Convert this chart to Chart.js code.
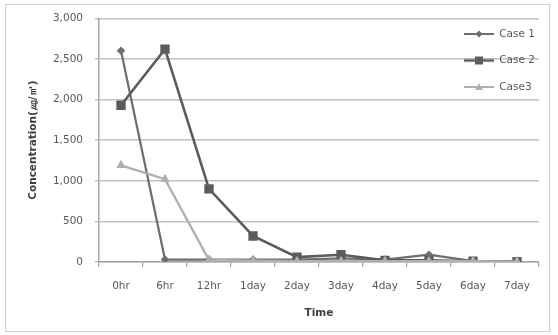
<!DOCTYPE html>
<html>
<head>
<meta charset="utf-8">
<script src="https://cdn.jsdelivr.net/npm/chart.js@4"></script>
<style>
  html, body { margin: 0; padding: 0; background: #ffffff; }
  #frame { position: absolute; left: 5px; top: 4px; width: 543px; height: 326px; border: 1px solid #cfcfcf; }
  #c { position: absolute; left: 0; top: 0; }
</style>
</head>
<body>
<div id="frame"></div>
<canvas id="c" width="558" height="335"></canvas>
<script>
const categories = ['0hr', '6hr', '12hr', '1day', '2day', '3day', '4day', '5day', '6day', '7day'];
const case1 = [2600, 30, 30, 30, 30, 45, 30, 90, 10, 5];
const case2 = [1930, 2620, 900, 320, 60, 90, 20, 20, 10, 5];
const case3 = [1190, 1020, 25, 15, 10, 10, 10, 10, 10, 5];
const seriesNames = ['Case 1', 'Case 2', 'Case3'];
const yTickValues = [0, 500, 1000, 1500, 2000, 2500, 3000];
const yTickLabels = ['0', '500', '1,000', '1,500', '2,000', '2,500', '3,000'];
const xTitle = 'Time';
const yTitle = 'Concentration(㎍/㎥)';

const FONT = "'DejaVu Sans', sans-serif";
const colors = ['#6e6e6e', '#5c5c5c', '#b0b0b0'];

function legendIcon(color, kind, lw) {
  const c = document.createElement('canvas');
  c.width = 30; c.height = 12;
  const g = c.getContext('2d');
  g.strokeStyle = color; g.fillStyle = color; g.lineWidth = lw;
  g.beginPath(); g.moveTo(0, 6); g.lineTo(30, 6); g.stroke();
  g.beginPath();
  if (kind === 'diamond') { g.moveTo(15, 2.5); g.lineTo(18.5, 6); g.lineTo(15, 9.5); g.lineTo(11.5, 6); }
  else if (kind === 'square') { g.rect(11, 2, 8, 8); }
  else { g.moveTo(15, 2); g.lineTo(19, 9); g.lineTo(11, 9); }
  g.closePath(); g.fill();
  return c;
}
const icons = [legendIcon(colors[0], 'diamond', 2), legendIcon(colors[1], 'square', 2.5), legendIcon(colors[2], 'triangle', 2)];

const legendPlace = {
  id: 'legendPlace',
  afterLayout(chart) {
    const lg = chart.legend;
    if (!lg) return;
    const pad = lg.options.labels.padding;
    const x = chart.chartArea.right - 75;
    lg.left = x - pad;
    lg.right = lg.left + lg.width;
    lg.top = 12.75;
    lg.bottom = lg.top + lg.height;
  }
};

new Chart(document.getElementById('c'), {
  type: 'line',
  data: {
    labels: categories,
    datasets: [
      { label: seriesNames[0], data: case1, borderColor: colors[0], backgroundColor: colors[0], borderWidth: 2.2,
        pointStyle: 'rectRot', pointRadius: 4.3, pointBorderWidth: 0, order: 2 },
      { label: seriesNames[1], data: case2, borderColor: colors[1], backgroundColor: colors[1], borderWidth: 2.6,
        pointStyle: 'rect', pointRadius: 6.6, pointBorderWidth: 0, order: 1 },
      { label: seriesNames[2], data: case3, borderColor: colors[2], backgroundColor: colors[2], borderWidth: 2.4,
        pointStyle: 'triangle', pointRadius: 5.5, pointBorderWidth: 0, order: 0 }
    ]
  },
  options: {
    responsive: false,
    animation: false,
    devicePixelRatio: 1,
    layout: { padding: { top: 18, right: 19, bottom: 0, left: 0 } },
    elements: { line: { tension: 0 } },
    plugins: {
      tooltip: { enabled: false },
      legend: {
        position: 'chartArea',
        align: 'start',
        labels: {
          usePointStyle: true,
          pointStyleWidth: 30,
          padding: 16,
          color: '#595959',
          font: { family: FONT, size: 10.5 },
          generateLabels(chart) {
            const items = Chart.defaults.plugins.legend.labels.generateLabels(chart);
            items.sort((a, b) => a.datasetIndex - b.datasetIndex);
            items.forEach(it => { it.pointStyle = icons[it.datasetIndex]; });
            return items;
          }
        }
      }
    },
    scales: {
      x: {
        offset: true,
        grid: { display: true, drawOnChartArea: false, offset: true, tickLength: 5, color: '#a6a6a6', lineWidth: 1.2 },
        border: { color: '#a6a6a6', width: 1.5 },
        ticks: { color: '#595959', font: { family: FONT, size: 10.5 }, padding: 12.5, maxRotation: 0, autoSkip: false },
        title: { display: true, text: xTitle, color: '#404040', font: { family: FONT, size: 10.5, weight: 'bold' }, padding: { top: 0, bottom: 15.7 } },
        afterFit(scale) { scale.height = 73; }
      },
      y: {
        min: 0, max: 3000,
        afterBuildTicks(scale) { scale.ticks = yTickValues.map(v => ({ value: v })); },
        grid: { color: '#c2c2c2', lineWidth: 1.5, tickLength: 4 },
        border: { color: '#a6a6a6', width: 1.5 },
        ticks: { color: '#595959', font: { family: FONT, size: 10.5 }, padding: 12,
          callback(value, index) { return yTickLabels[yTickValues.indexOf(value)]; } },
        title: { display: true, text: yTitle, color: '#404040', font: { family: FONT, size: 10.5, weight: 'bold' }, padding: { top: 26.7, bottom: 0 } },
        afterFit(scale) { scale.width = 99; }
      }
    }
  },
  plugins: [legendPlace]
});
</script>
</body>
</html>
